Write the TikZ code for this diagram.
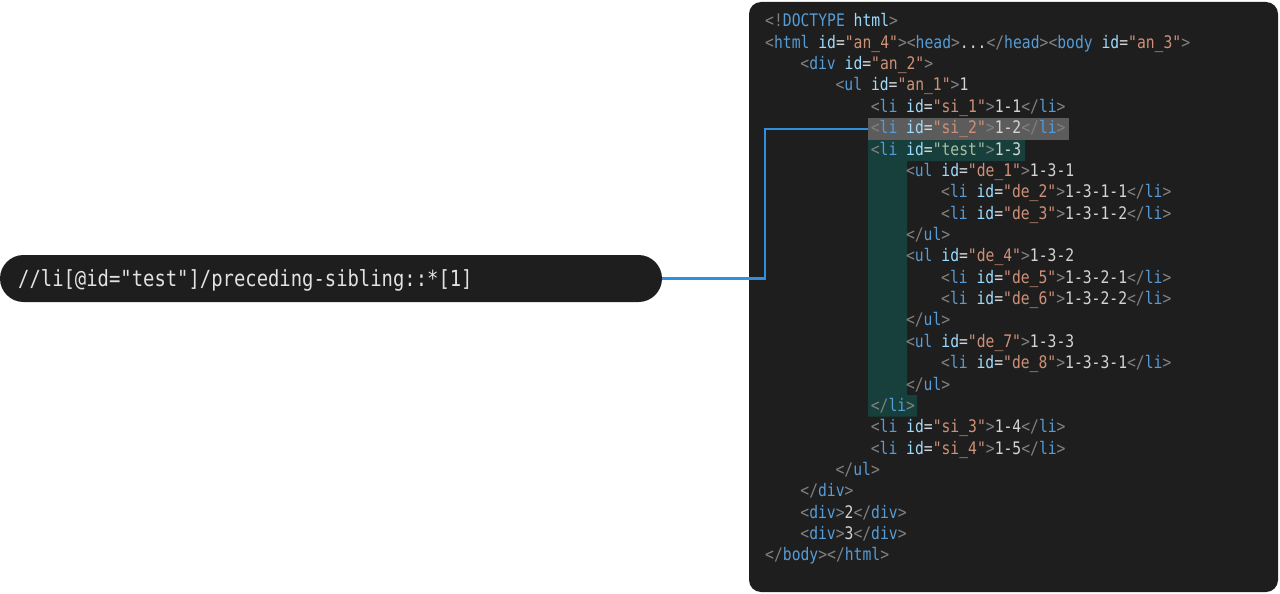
\documentclass[tikz,border=0pt]{standalone}
\usepackage{fontspec}
\newfontfamily\codefont[FakeStretch=0.85]{DejaVu Sans Mono}
\definecolor{panel}{HTML}{1E1E1E}
\definecolor{cbr}{HTML}{808080}
\definecolor{ctg}{HTML}{569CD6}
\definecolor{cat}{HTML}{9CDCFE}
\definecolor{cvl}{HTML}{CE9178}
\definecolor{ctx}{HTML}{D4D4D4}
\definecolor{ctest}{HTML}{A8BFA4}
\definecolor{hlgray}{HTML}{5C5C5C}
\definecolor{hlteal}{HTML}{173F3B}
\definecolor{link}{HTML}{2F8FE0}
\definecolor{pilltxt}{HTML}{E2E2E2}
\newcommand\Xbr[1]{\textcolor{cbr}{#1}}
\newcommand\Xtg[1]{\textcolor{ctg}{#1}}
\newcommand\Xat[1]{\textcolor{cat}{#1}}
\newcommand\Xvl[1]{\textcolor{cvl}{#1}}
\newcommand\Xtx[1]{\textcolor{ctx}{#1}}
\newcommand\Xo[2]{\Xbr{<}\Xtg{#1} \Xat{id}\Xtx{=}\Xvl{"#2"}\Xbr{>}}
\newcommand\Xc[1]{\Xbr{</}\Xtg{#1}\Xbr{>}}
\newcommand\Xp[1]{\Xbr{<}\Xtg{#1}\Xbr{>}}
\tikzset{
  codeline/.style={anchor=base west, inner sep=0pt, font=\codefont\fontsize{17.3}{20}\selectfont, text=ctx},
  pill/.style={fill=panel, rounded corners=23.5pt, minimum width=662pt, minimum height=47pt, inner sep=0pt},
  pilltext/.style={anchor=base west, inner sep=0pt, font=\codefont\fontsize{22.2}{26}\selectfont, text=pilltxt},
  connector/.style={draw=link, line width=2.5pt},
}
\newcommand\Ln[3]{\node[codeline] (l#2) at ({765+#1*35.2},{26.9+(#2-1)*21.36}) {#3};}
\begin{document}
\begin{tikzpicture}[x=1pt,y=-1pt]
\useasboundingbox (0,0) rectangle (1280,594);
% code panel
\fill[panel, rounded corners=12pt] (749,2) rectangle (1278,592);
% highlights
\node[fill=hlgray, inner sep=0pt, minimum width=201pt, minimum height=22pt] (si2) at (968.5,129) {};
\fill[hlteal] (868,140) -- (1025,140) -- (1025,161) -- (907,161) -- (907,395) -- (917,395) -- (917,416.5) -- (868,416.5) -- cycle;
% code lines
\Ln{0}{1}{\Xbr{<!}\Xtg{DOCTYPE} \Xat{html}\Xbr{>}}
\Ln{0}{2}{\Xo{html}{an\_4}\Xp{head}\Xtx{...}\Xc{head}\Xo{body}{an\_3}}
\Ln{1}{3}{\Xo{div}{an\_2}}
\Ln{2}{4}{\Xo{ul}{an\_1}\Xtx{1}}
\Ln{3}{5}{\Xo{li}{si\_1}\Xtx{1-1}\Xc{li}}
\Ln{3}{6}{\Xo{li}{si\_2}\Xtx{1-2}\Xc{li}}
\Ln{3}{7}{\Xbr{<}\Xtg{li} \Xat{id}\Xtx{=}\textcolor{ctest}{"test"}\Xbr{>}\Xtx{1-3}}
\Ln{4}{8}{\Xo{ul}{de\_1}\Xtx{1-3-1}}
\Ln{5}{9}{\Xo{li}{de\_2}\Xtx{1-3-1-1}\Xc{li}}
\Ln{5}{10}{\Xo{li}{de\_3}\Xtx{1-3-1-2}\Xc{li}}
\Ln{4}{11}{\Xc{ul}}
\Ln{4}{12}{\Xo{ul}{de\_4}\Xtx{1-3-2}}
\Ln{5}{13}{\Xo{li}{de\_5}\Xtx{1-3-2-1}\Xc{li}}
\Ln{5}{14}{\Xo{li}{de\_6}\Xtx{1-3-2-2}\Xc{li}}
\Ln{4}{15}{\Xc{ul}}
\Ln{4}{16}{\Xo{ul}{de\_7}\Xtx{1-3-3}}
\Ln{5}{17}{\Xo{li}{de\_8}\Xtx{1-3-3-1}\Xc{li}}
\Ln{4}{18}{\Xc{ul}}
\Ln{3}{19}{\Xc{li}}
\Ln{3}{20}{\Xo{li}{si\_3}\Xtx{1-4}\Xc{li}}
\Ln{3}{21}{\Xo{li}{si\_4}\Xtx{1-5}\Xc{li}}
\Ln{2}{22}{\Xc{ul}}
\Ln{1}{23}{\Xc{div}}
\Ln{1}{24}{\Xp{div}\Xtx{2}\Xc{div}}
\Ln{1}{25}{\Xp{div}\Xtx{3}\Xc{div}}
\Ln{0}{26}{\Xc{body}\Xc{html}}
% query pill
\node[pill] (query) at (331,278.5) {};
\node[pilltext] (qtext) at (18,286) {//li[@id="test"]/preceding-sibling::*[1]};
% connector
\coordinate (bend) at (765,129);
\draw[connector] (query.east) -| (bend) -- (si2.west);
\end{tikzpicture}
\end{document}
